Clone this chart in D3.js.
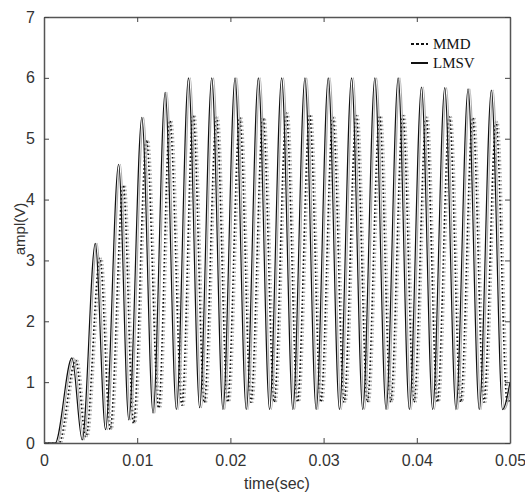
<!DOCTYPE html>
<html>
<head>
<meta charset="utf-8">
<script src="https://cdn.jsdelivr.net/npm/d3@7"></script>
<style>
  body { margin: 0; background: #fff; }
  .tick text { font-family: "Liberation Sans", Arial, sans-serif; font-size: 16px; fill: #333; }
</style>
</head>
<body>
<svg width="525" height="494"></svg>
<script>
// LMSV (solid): times and values of the turning points
const lmsvTime = [0, 0.0012,
  0.0030, 0.0041, 0.0055, 0.0066, 0.0080, 0.0091, 0.0105, 0.0117, 0.0130, 0.0142,
  0.0155, 0.0167, 0.0180, 0.0192, 0.0205, 0.0217, 0.0230, 0.0242, 0.0255, 0.0267,
  0.0280, 0.0292, 0.0305, 0.0317, 0.0330, 0.0342, 0.0355, 0.0367, 0.0380, 0.0392,
  0.0405, 0.0417, 0.0430, 0.0442, 0.0455, 0.0467, 0.0480, 0.0492, 0.0500]
const lmsvValue = [0, 0,
  1.40, 0.05, 3.28, 0.22, 4.58, 0.38, 5.35, 0.49, 5.76, 0.55,
  6.00, 0.58, 6.00, 0.55, 6.00, 0.55, 6.00, 0.55, 6.00, 0.55,
  6.00, 0.55, 6.00, 0.55, 6.00, 0.55, 6.00, 0.55, 6.00, 0.55,
  5.85, 0.55, 5.84, 0.55, 5.82, 0.55, 5.80, 0.55, 1.00]

// MMD (dotted)
const mmdTime = [0, 0.0016,
  0.0034, 0.0045, 0.0060, 0.0071, 0.0085, 0.0096, 0.0110, 0.0123, 0.0135, 0.0148,
  0.0160, 0.0172, 0.0185, 0.0197, 0.0210, 0.0222, 0.0235, 0.0247, 0.0260, 0.0272,
  0.0285, 0.0297, 0.0310, 0.0322, 0.0335, 0.0347, 0.0360, 0.0372, 0.0385, 0.0397,
  0.0410, 0.0422, 0.0435, 0.0447, 0.0460, 0.0472, 0.0485, 0.0497, 0.0500]
const mmdValue = [0, 0,
  1.36, 0.10, 3.04, 0.22, 4.24, 0.32, 4.98, 0.57, 5.30, 0.62,
  5.39, 0.66, 5.35, 0.67, 5.35, 0.67, 5.35, 0.67, 5.42, 0.67,
  5.40, 0.67, 5.35, 0.67, 5.38, 0.67, 5.38, 0.67, 5.38, 0.67,
  5.35, 0.67, 5.36, 0.67, 5.35, 0.67, 5.28, 0.67, 0.72]

const xTicks = [0, 0.01, 0.02, 0.03, 0.04, 0.05]
const xTickLabels = ['0', '0.01', '0.02', '0.03', '0.04', '0.05']
const yTicks = [0, 1, 2, 3, 4, 5, 6, 7]

const series = [
  { name: 'MMD', time: mmdTime, value: mmdValue, dash: '1.6,2.4', width: 1.6 },
  { name: 'LMSV', time: lmsvTime, value: lmsvValue, dash: null, width: 1.2 }
]

const plotLeft = 44, plotRight = 510, plotTop = 17, plotBottom = 443

const svg = d3.select('svg')

const x = d3.scaleLinear().domain([0, 0.05]).range([plotLeft, plotRight])
const y = d3.scaleLinear().domain([0, 7]).range([plotBottom, plotTop])

svg.append('defs').append('clipPath').attr('id', 'plot')
  .append('rect')
  .attr('x', plotLeft).attr('y', plotTop)
  .attr('width', plotRight - plotLeft).attr('height', plotBottom - plotTop)

const line = d3.line()
  .x(d => x(d[0]))
  .y(d => y(d[1]))
  .curve(d3.curveMonotoneX)

const lines = svg.append('g').attr('clip-path', 'url(#plot)')
series.forEach(s => {
  const pts = s.time.map((t, i) => [t, s.value[i]])
  // the scanned original shows a grey ghost beside every trace
  lines.append('path')
    .datum(pts)
    .attr('transform', 'translate(1.8,0)')
    .attr('fill', 'none')
    .attr('stroke', '#aaa')
    .attr('stroke-width', s.width)
    .attr('stroke-dasharray', s.dash)
    .attr('d', line)
  lines.append('path')
    .datum(pts)
    .attr('fill', 'none')
    .attr('stroke', '#111')
    .attr('stroke-width', s.width)
    .attr('stroke-dasharray', s.dash)
    .attr('d', line)
})

// axes, matlab style: ticks inward on all four sides
const tickFmt = (d, i) => xTickLabels[i]
svg.append('g')
  .attr('transform', `translate(0,${plotBottom})`)
  .call(d3.axisBottom(x).tickValues(xTicks).tickFormat(tickFmt).tickSizeInner(-5).tickSizeOuter(0).tickPadding(12))
svg.append('g')
  .attr('transform', `translate(0,${plotTop})`)
  .call(d3.axisTop(x).tickValues(xTicks).tickFormat('').tickSizeInner(-5).tickSizeOuter(0))
svg.append('g')
  .attr('transform', `translate(${plotLeft},0)`)
  .call(d3.axisLeft(y).tickValues(yTicks).tickFormat(d3.format('d')).tickSizeInner(-5).tickSizeOuter(0).tickPadding(9))
svg.append('g')
  .attr('transform', `translate(${plotRight},0)`)
  .call(d3.axisRight(y).tickValues(yTicks).tickFormat('').tickSizeInner(-5).tickSizeOuter(0))

svg.selectAll('.domain').attr('stroke', '#555').attr('stroke-width', 1.5)
svg.selectAll('.tick line').attr('stroke', '#444')

svg.append('text')
  .attr('x', 277).attr('y', 489)
  .attr('text-anchor', 'middle')
  .attr('font-family', '"Liberation Sans", Arial, sans-serif')
  .attr('font-size', 16).attr('fill', '#333')
  .text('time(sec)')

svg.append('text')
  .attr('transform', `translate(25,229) rotate(-90)`)
  .attr('text-anchor', 'middle')
  .attr('font-family', '"Liberation Sans", Arial, sans-serif')
  .attr('font-size', 15).attr('fill', '#333')
  .text('ampl(V)')

// legend
const legend = svg.append('g')
series.forEach((s, i) => {
  const ly = 44 + i * 19
  legend.append('line')
    .attr('x1', 411).attr('x2', 428).attr('y1', ly).attr('y2', ly)
    .attr('stroke', '#111').attr('stroke-width', 2)
    .attr('stroke-dasharray', s.dash ? '3,2' : null)
  legend.append('text')
    .attr('x', 433).attr('y', ly + 5)
    .attr('font-family', '"Liberation Serif", "Times New Roman", serif')
    .attr('font-size', 15).attr('fill', '#111')
    .text(s.name)
})
</script>
</body>
</html>
